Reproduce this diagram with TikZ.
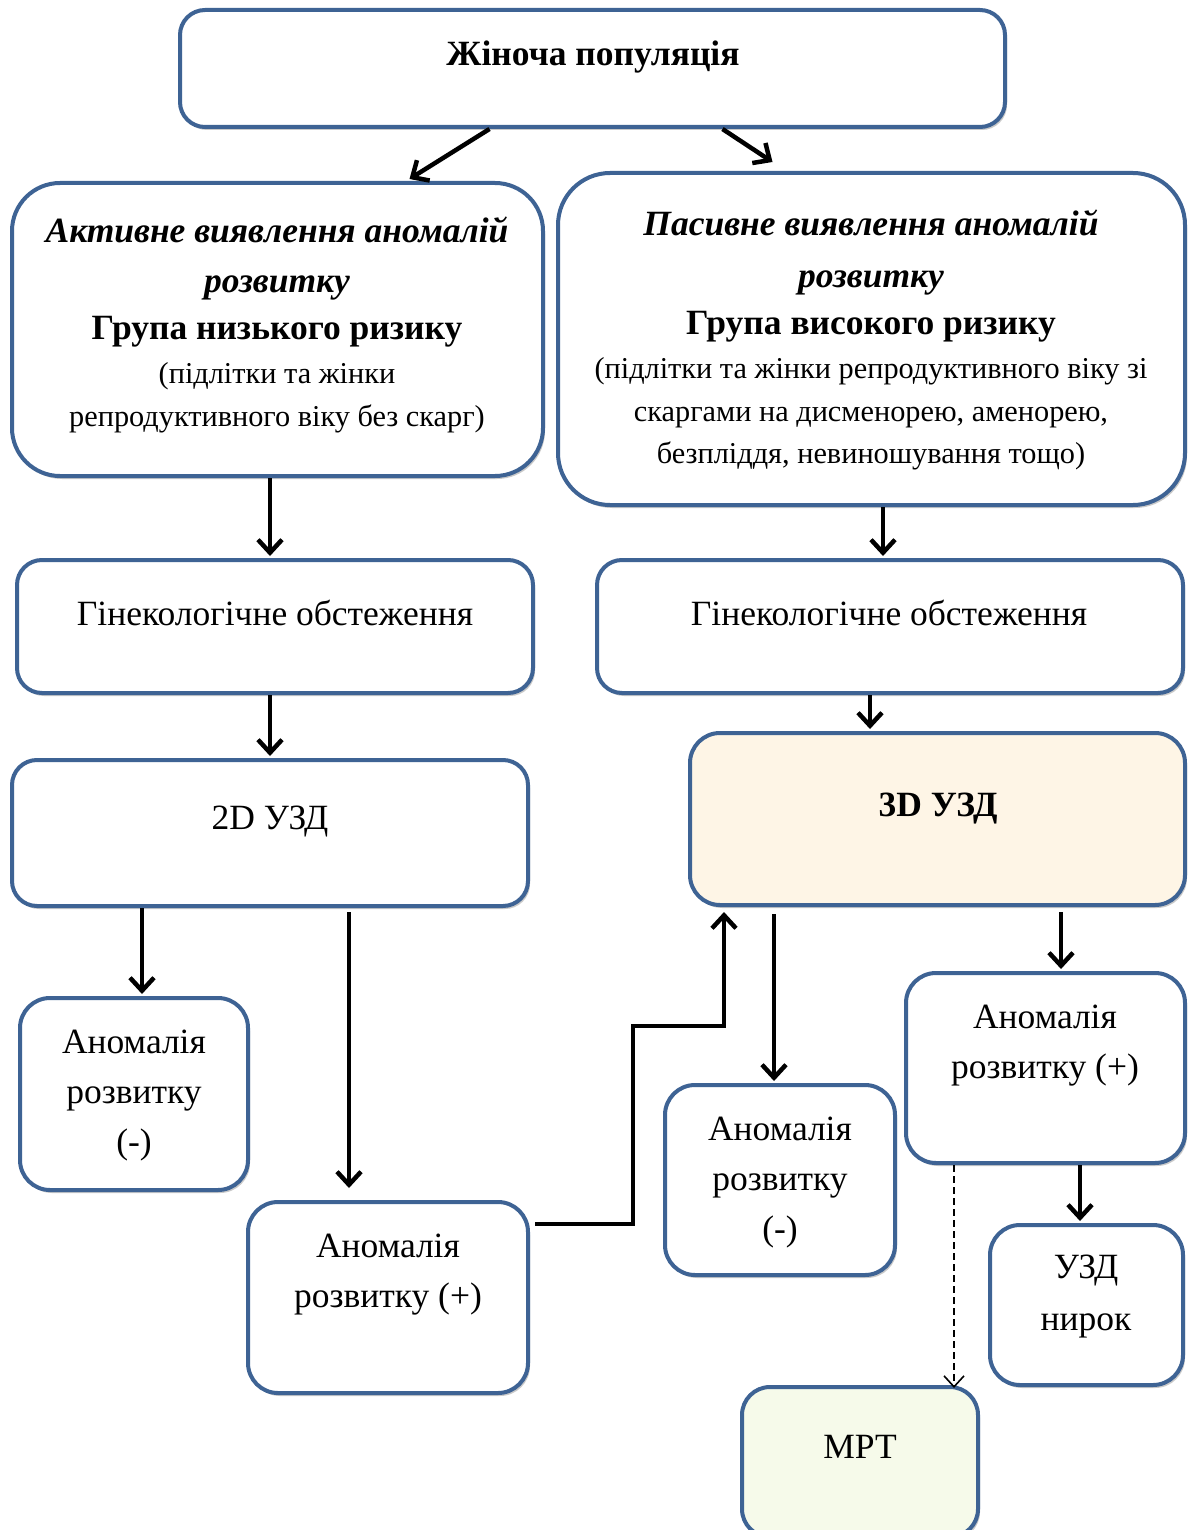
\documentclass[tikz,border=0pt]{standalone}
\usepackage{fontspec}
\setmainfont{Liberation Serif}
\usetikzlibrary{arrows.meta,shadows}
\definecolor{bordc}{HTML}{3E6394}
\definecolor{cream}{HTML}{FEF5E6}
\definecolor{lgreen}{HTML}{F6FAEA}
\tikzset{
  box/.style={draw=bordc, line width=4pt, rounded corners=#1, fill=white, inner sep=0pt},
  box/.default=28pt,
  txt/.style={align=center, inner sep=0pt, font=\fontsize{35.5}{50}\selectfont},
  small/.style={align=center, inner sep=0pt, font=\fontsize{30.3}{42.5}\selectfont},
  arr/.style={line width=4.5pt, -{Straight Barb[length=13pt,width=24pt]}},
  darr/.style={line width=1.6pt, dash pattern=on 7pt off 4pt, -{Straight Barb[length=11pt,width=20pt]}},
  softshadow/.style={drop shadow={shadow xshift=2pt, shadow yshift=-3pt, opacity=0.35, fill=black!60}}
}
\begin{document}
\begin{tikzpicture}[x=1pt,y=-1pt]
\useasboundingbox (0,0) rectangle (1189,1530);
\fill[white] (0,0) rectangle (1189,1530);
% boxes
\node[box=25pt, softshadow, minimum width=825pt, minimum height=117pt] (top) at (592.5,68.5) {};
\node[box=48pt, softshadow, minimum width=531pt, minimum height=293pt] (act) at (277.5,329.5) {};
\node[box=52pt, softshadow, minimum width=627pt, minimum height=332pt] (pas) at (871.5,339) {};
\node[box=25pt, softshadow, minimum width=516pt, minimum height=133pt] (gl) at (275,626.5) {};
\node[box=25pt, softshadow, minimum width=586pt, minimum height=133pt] (gr) at (890,626.5) {};
\node[box=25pt, softshadow, minimum width=516pt, minimum height=146pt] (u2) at (270,833) {};
\node[box=30pt, fill=cream, softshadow, minimum width=495pt, minimum height=172pt] (u3) at (937.5,819) {};
\node[box=30pt, softshadow, minimum width=228pt, minimum height=192pt] (an1) at (134,1094) {};
\node[box=30pt, softshadow, minimum width=280pt, minimum height=191pt] (ap1) at (388,1297.5) {};
\node[box=30pt, softshadow, minimum width=230pt, minimum height=190pt] (an2) at (780,1180) {};
\node[box=30pt, softshadow, minimum width=279pt, minimum height=190pt] (ap2) at (1045.5,1068) {};
\node[box=30pt, softshadow, minimum width=193pt, minimum height=160pt] (kid) at (1086.5,1305) {};
\node[box=28pt, fill=lgreen, softshadow, minimum width=236pt, minimum height=150pt] (mrt) at (860,1462) {};
% texts
\node[txt, font=\fontsize{35.5}{42}\bfseries\selectfont] at (593,57) {Жіноча популяція};
\node[txt, font=\fontsize{35.5}{50}\bfseries\itshape\selectfont] at (277,259) {Активне виявлення аномалій\\розвитку};
\node[txt, font=\fontsize{35.5}{42}\bfseries\selectfont] at (277,332) {Група низького ризику};
\node[small] at (277,398) {(підлітки та жінки\\репродуктивного віку без скарг)};
\node[txt, font=\fontsize{35.5}{52}\bfseries\itshape\selectfont] at (871,253) {Пасивне виявлення аномалій\\розвитку};
\node[txt, font=\fontsize{35.5}{42}\bfseries\selectfont] at (871,327) {Група високого ризику};
\node[small] at (871,414) {(підлітки та жінки репродуктивного віку зі\\скаргами на дисменорею, аменорею,\\безпліддя, невиношування тощо)};
\node[txt] at (275,613) {Гінекологічне обстеження};
\node[txt] at (889,613) {Гінекологічне обстеження};
\node[txt] at (270,822) {2D УЗД};
\node[txt, font=\fontsize{35.5}{42}\bfseries\selectfont] at (938,809) {3D УЗД};
\node[txt] at (134,1096) {Аномалія\\розвитку\\(-)};
\node[txt] at (388,1275) {Аномалія\\розвитку (+)};
\node[txt] at (780,1183) {Аномалія\\розвитку\\(-)};
\node[txt] at (1045,1046) {Аномалія\\розвитку (+)};
\node[txt, font=\fontsize{35.5}{52}\selectfont] at (1086,1297) {УЗД\\нирок};
\node[txt] at (860,1447) {МРТ};
% connectors (yshift is in page direction: negative = down)
\draw[arr] ([xshift=-103pt]top.south) -- ([xshift=132pt,yshift=2pt]act.north);
\draw[arr] ([xshift=130pt]top.south) -- ++(50,33);
\draw[arr] (act.south -| 270,0) -- ([yshift=2pt]gl.north -| 270,0);
\draw[arr] (pas.south -| 883,0) -- ([yshift=2pt]gr.north -| 883,0);
\draw[arr] (gl.south -| 270,0) -- ([yshift=2pt]u2.north -| 270,0);
\draw[arr] (gr.south -| 870,0) -- ([yshift=2pt]u3.north -| 870,0);
\draw[arr] (u2.south -| 142,0) -- ([yshift=2pt]an1.north -| 142,0);
\draw[arr] ([yshift=-4pt]u2.south -| 349,0) -- ([yshift=12pt]ap1.north -| 349,0);
\draw[arr] ([xshift=5pt]ap1.east |- 0,1224) -- (633,1224) -- (633,1026) -- (724,1026) -- ([yshift=-5pt]u3.south -| 724,0);
\draw[arr] ([yshift=-7pt]u3.south -| 774,0) -- ([yshift=2pt]an2.north -| 774,0);
\draw[arr] ([yshift=-5pt]u3.south -| 1061,0) -- ([yshift=2pt]ap2.north -| 1061,0);
\draw[arr] (ap2.south -| 1080,0) -- ([yshift=2pt]kid.north -| 1080,0);
\draw[darr] (ap2.south -| 954,0) -- ([yshift=-3pt]mrt.north -| 954,0);
\end{tikzpicture}
\end{document}
